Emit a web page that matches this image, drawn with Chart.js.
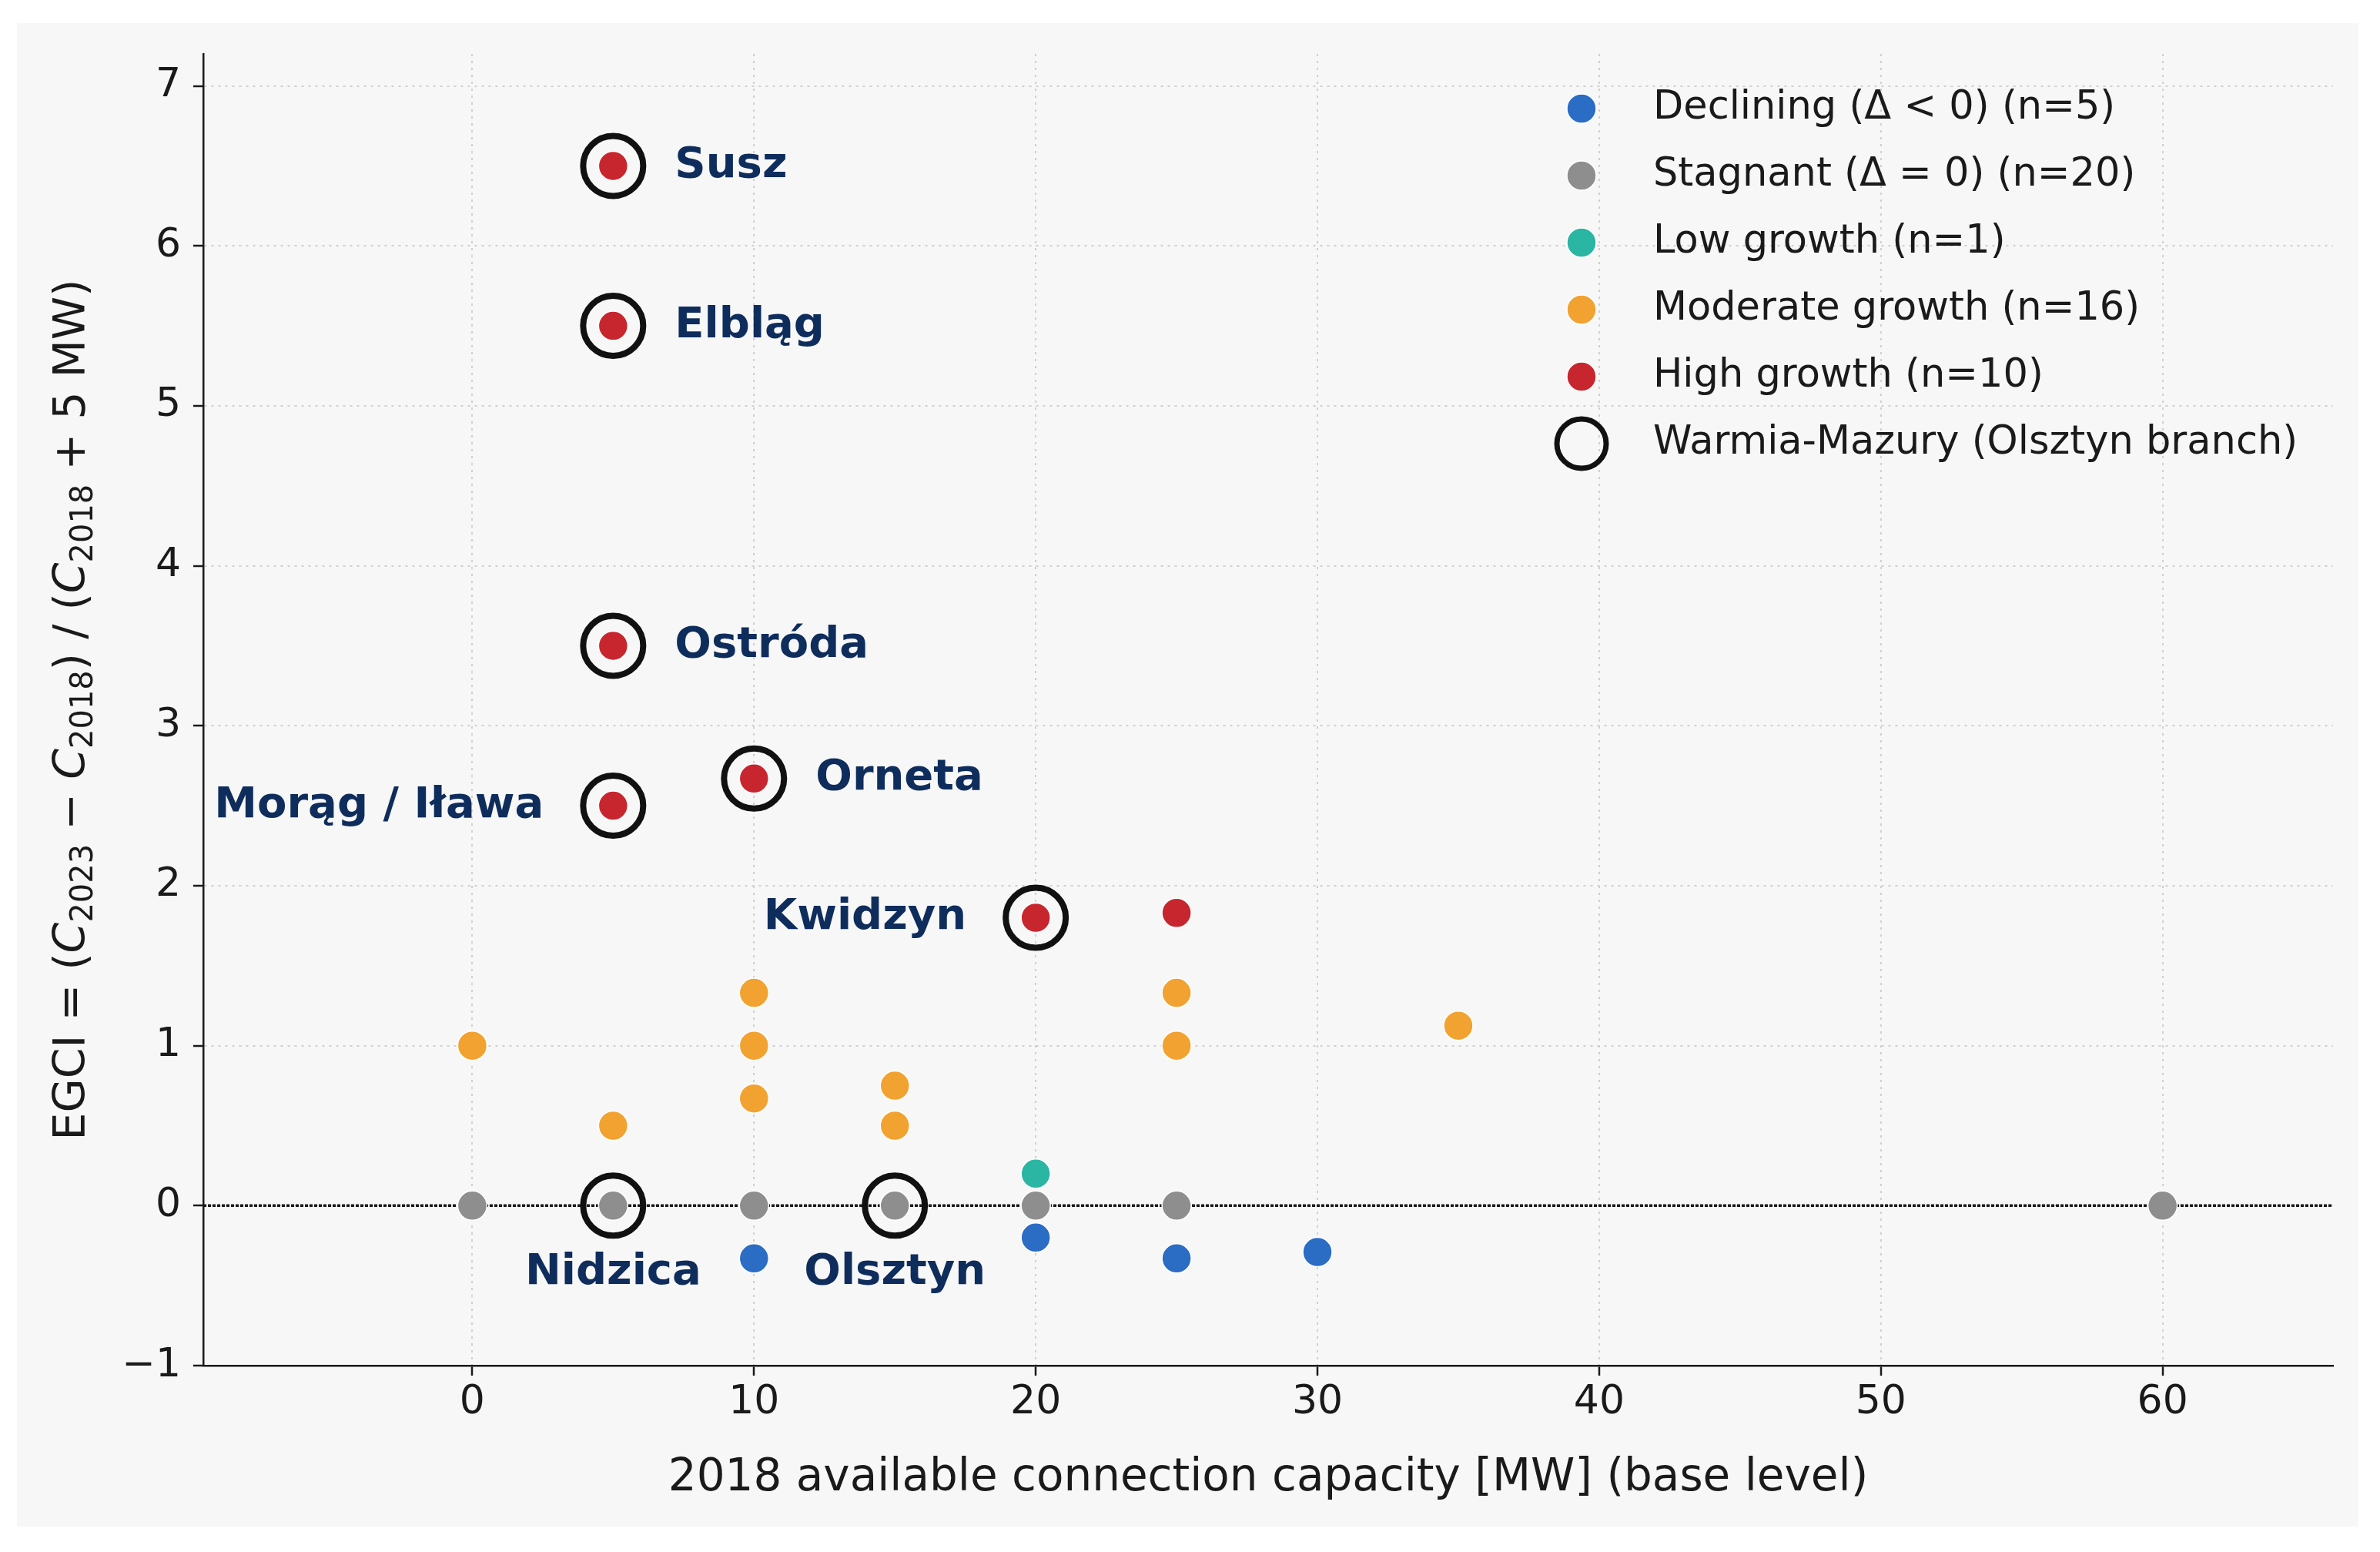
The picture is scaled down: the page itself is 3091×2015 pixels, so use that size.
<!DOCTYPE html>
<html>
<head>
<meta charset="utf-8">
<title>EGCI vs 2018 connection capacity</title>
<script src="https://cdn.jsdelivr.net/npm/chart.js@4.4.1/dist/chart.umd.min.js"></script>
<style>
  html, body { margin: 0; padding: 0; background: #ffffff; }
  canvas { display: block; }
</style>
</head>
<body>
<canvas id="grafica" width="3091" height="2015"></canvas>
<script>
// series: [2018 capacity MW, EGCI]
const decliningPts = [[10, -0.33], [20, -0.2], [25, -0.33], [30, -0.29]];
const stagnantPts = [[0, 0], [5, 0], [10, 0], [15, 0], [20, 0], [25, 0], [60, 0]];
const lowPts = [[20, 0.2]];
const moderatePts = [[0, 1], [5, 0.5], [10, 1.33], [10, 1], [10, 0.67], [15, 0.75], [15, 0.5], [25, 1.33], [25, 1], [35, 1.125]];
const highPts = [[5, 6.5], [5, 5.5], [5, 3.5], [5, 2.5], [10, 2.67], [20, 1.8], [25, 1.83]];

// Warmia-Mazury towns (Olsztyn branch)
const warmiaPts = [[5, 6.5], [5, 5.5], [5, 3.5], [5, 2.5], [10, 2.67], [20, 1.8], [5, 0], [15, 0]];
const warmiaNames = ["Susz", "Elbląg", "Ostróda", "Morąg / Iława", "Orneta", "Kwidzyn", "Nidzica", "Olsztyn"];

const legendLabels = [
  "Declining (Δ < 0) (n=5)",
  "Stagnant (Δ = 0) (n=20)",
  "Low growth (n=1)",
  "Moderate growth (n=16)",
  "High growth (n=10)",
  "Warmia-Mazury (Olsztyn branch)"
];

const xTicks = [0, 10, 20, 30, 40, 50, 60];
const yTicks = [-1, 0, 1, 2, 3, 4, 5, 6, 7];
const xRange = [-9.55, 66.05];
const yRange = [-1, 7.2];

const FONT = "'DejaVu Sans', sans-serif";
const INK = "#1a1a1a";
const colors = ["#2b6cc4", "#8e8e8e", "#2bb5a3", "#f2a230", "#c8262e"];

const toXY = arr => arr.map(p => ({ x: p[0], y: p[1] }));

function dotSet(label, pts, color) {
  return {
    label: label,
    data: toXY(pts),
    backgroundColor: color,
    borderColor: "#ffffff",
    borderWidth: 1.5,
    pointRadius: 19,
    order: 2
  };
}

// background of the figure
const bgPlugin = {
  id: "bg",
  beforeDraw(chart) {
    const c = chart.ctx;
    c.save();
    c.fillStyle = "#ffffff";
    c.fillRect(0, 0, chart.width, chart.height);
    c.fillStyle = "#f7f7f7";
    c.fillRect(22, 30, 3041, 1952);
    c.restore();
  }
};

// y axis title with italic C and subscripts
const yTitlePlugin = {
  id: "yTitle",
  afterDraw(chart) {
    const c = chart.ctx;
    const a = chart.chartArea;
    const size = 57, sub = 40;
    const parts = [
      ["EGCI = (", "n"], ["C", "i"], ["2023", "s"], [" − ", "n"], ["C", "i"], ["2018", "s"],
      [") / (", "n"], ["C", "i"], ["2018", "s"], [" + 5 MW)", "n"]
    ];
    const fontOf = t => t === "i" ? `italic ${size}px ${FONT}` : (t === "s" ? `${sub}px ${FONT}` : `${size}px ${FONT}`);
    let total = 0;
    parts.forEach(p => { c.font = fontOf(p[1]); total += c.measureText(p[0]).width; });
    c.save();
    c.translate(89, (a.top + a.bottom) / 2);
    c.rotate(-Math.PI / 2);
    c.fillStyle = INK;
    c.textAlign = "left";
    c.textBaseline = "alphabetic";
    let x = -total / 2;
    parts.forEach(p => {
      c.font = fontOf(p[1]);
      c.fillText(p[0], x, p[1] === "s" ? 31 : 21);
      x += c.measureText(p[0]).width;
    });
    c.restore();
  }
};

// town names next to the circled points
const labelPlugin = {
  id: "townLabels",
  afterDatasetsDraw(chart) {
    const c = chart.ctx, xs = chart.scales.x, ys = chart.scales.y;
    const leftOf = ["Morąg / Iława", "Kwidzyn"];
    const below = ["Nidzica", "Olsztyn"];
    c.save();
    c.font = `bold 56px ${FONT}`;
    c.fillStyle = "#0f2d5c";
    warmiaNames.forEach((name, i) => {
      const px = xs.getPixelForValue(warmiaPts[i][0]);
      const py = ys.getPixelForValue(warmiaPts[i][1]);
      if (leftOf.includes(name)) {
        c.textAlign = "right"; c.textBaseline = "middle";
        c.fillText(name, px - 90, py);
      } else if (below.includes(name)) {
        c.textAlign = "center"; c.textBaseline = "alphabetic";
        c.fillText(name, px, py + 102);
      } else {
        c.textAlign = "left"; c.textBaseline = "middle";
        c.fillText(name, px + 80, py);
      }
    });
    c.restore();
  }
};

// legend in the upper right corner
const legendPlugin = {
  id: "cornerLegend",
  afterDatasetsDraw(chart) {
    const c = chart.ctx;
    const mx = 2054, tx = 2147, y0 = 141, step = 87;
    c.save();
    c.font = `51px ${FONT}`;
    c.textAlign = "left";
    c.textBaseline = "middle";
    legendLabels.forEach((txt, i) => {
      const y = y0 + i * step;
      c.beginPath();
      if (i < colors.length) {
        c.arc(mx, y, 19, 0, Math.PI * 2);
        c.fillStyle = colors[i];
        c.fill();
        c.lineWidth = 1.5;
        c.strokeStyle = "#ffffff";
        c.stroke();
      } else {
        c.arc(mx, y, 32, 0, Math.PI * 2);
        c.lineWidth = 7;
        c.strokeStyle = "#111111";
        c.stroke();
      }
      c.fillStyle = INK;
      c.fillText(txt, tx, y);
    });
    c.restore();
  }
};

document.addEventListener("DOMContentLoaded", function () {
  const ctx = document.getElementById("grafica").getContext("2d");

  const datos = {
    datasets: [
      {
        label: "zero",
        data: [{ x: xRange[0], y: 0 }, { x: xRange[1], y: 0 }],
        showLine: true,
        borderColor: "#1a1a1a",
        borderWidth: 3.5,
        borderDash: [4, 2],
        pointRadius: 0,
        order: 3
      },
      dotSet(legendLabels[0], decliningPts, colors[0]),
      dotSet(legendLabels[1], stagnantPts, colors[1]),
      dotSet(legendLabels[2], lowPts, colors[2]),
      dotSet(legendLabels[3], moderatePts, colors[3]),
      dotSet(legendLabels[4], highPts, colors[4]),
      {
        label: legendLabels[5],
        data: toXY(warmiaPts),
        backgroundColor: "rgba(0,0,0,0)",
        borderColor: "#111111",
        borderWidth: 8,
        pointRadius: 39,
        order: 1
      }
    ]
  };

  new Chart(ctx, {
    type: "scatter",
    data: datos,
    plugins: [bgPlugin, yTitlePlugin, labelPlugin, legendPlugin],
    options: {
      responsive: false,
      devicePixelRatio: 1,
      animation: false,
      events: [],
      layout: { padding: { left: 0, right: 61, top: 70, bottom: 0 } },
      plugins: {
        legend: { display: false },
        tooltip: { enabled: false }
      },
      scales: {
        x: {
          type: "linear",
          min: xRange[0],
          max: xRange[1],
          afterBuildTicks: s => { s.ticks = xTicks.map(v => ({ value: v })); },
          afterFit: s => { s.height = 242; },
          grid: { color: "#d0d0d0", lineWidth: 2, tickColor: INK, tickLength: 13, tickWidth: 2.5, tickBorderDash: [] },
          border: { color: INK, width: 2.5, dash: [3, 6] },
          ticks: { font: { family: FONT, size: 52 }, color: INK, padding: 4, maxRotation: 0 },
          title: {
            display: true,
            text: "2018 available connection capacity [MW] (base level)",
            font: { family: FONT, size: 58 },
            color: INK,
            padding: { top: 0, bottom: 60 }
          }
        },
        y: {
          type: "linear",
          min: yRange[0],
          max: yRange[1],
          afterBuildTicks: s => { s.ticks = yTicks.map(v => ({ value: v })); },
          afterFit: s => { s.width = 264; },
          grid: { color: "#d0d0d0", lineWidth: 2, tickColor: INK, tickLength: 13, tickWidth: 2.5, tickBorderDash: [] },
          border: { color: INK, width: 2.5, dash: [3, 6] },
          ticks: {
            font: { family: FONT, size: 52 },
            color: INK,
            padding: 16,
            callback: v => String(v).replace("-", "−")
          }
        }
      }
    }
  });
});
</script>
</body>
</html>
